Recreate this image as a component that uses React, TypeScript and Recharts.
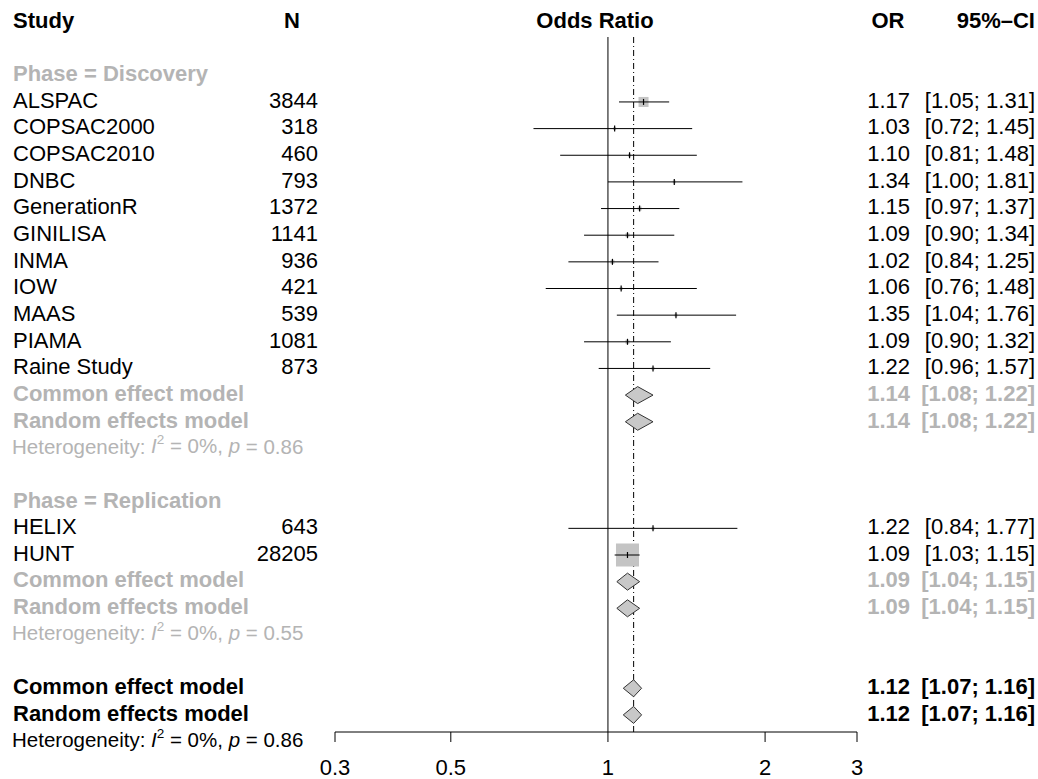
import React from 'react';
import { ComposedChart, Scatter, XAxis, YAxis, ReferenceLine } from 'recharts';

const W = 1038, H = 779;
const ROW0 = 22, ROWH = 26.65;
const yPix = (k: number) => ROW0 + ROWH * k;
const PLOT_TOP = 37, PLOT_BOTTOM = 732, PLOT_LEFT = 335, PLOT_RIGHT = 857;
const X_MIN = 0.3, X_MAX = 3;
const PX_PER_DEC = (PLOT_RIGHT - PLOT_LEFT) / Math.log10(X_MAX / X_MIN);

const studies = ['ALSPAC', 'COPSAC2000', 'COPSAC2010', 'DNBC', 'GenerationR', 'GINILISA', 'INMA', 'IOW', 'MAAS', 'PIAMA', 'Raine Study', 'HELIX', 'HUNT'];
const studyN = [3844, 318, 460, 793, 1372, 1141, 936, 421, 539, 1081, 873, 643, 28205];
const studyOR = [1.17, 1.03, 1.10, 1.34, 1.15, 1.09, 1.02, 1.06, 1.35, 1.09, 1.22, 1.22, 1.09];
const studyLo = [1.05, 0.72, 0.81, 1.00, 0.97, 0.90, 0.84, 0.76, 1.04, 0.90, 0.96, 0.84, 1.03];
const studyHi = [1.31, 1.45, 1.48, 1.81, 1.37, 1.34, 1.25, 1.48, 1.76, 1.32, 1.57, 1.77, 1.15];
const studyBox = [10, 3, 3, 3, 4, 4, 4, 3, 3, 4, 3, 3, 23];
const studyRow = [3, 4, 5, 6, 7, 8, 9, 10, 11, 12, 13, 19, 20];

const summaryLabels = ['Common effect model', 'Random effects model', 'Common effect model', 'Random effects model', 'Common effect model', 'Random effects model'];
const summaryOR = [1.14, 1.14, 1.09, 1.09, 1.12, 1.12];
const summaryLo = [1.08, 1.08, 1.04, 1.04, 1.07, 1.07];
const summaryHi = [1.22, 1.22, 1.15, 1.15, 1.16, 1.16];
const summaryRow = [14, 15, 21, 22, 25, 26];
const summaryOverall = [false, false, false, false, true, true];

const groupLabels = ['Phase = Discovery', 'Phase = Replication'];
const groupRow = [2, 18];
const hetP = ['0.86', '0.55', '0.86'];
const hetRow = [16, 23, 27];
const xTicks = [0.3, 0.5, 1, 2, 3];
const pooledOR = 1.12;

const studyData = studies.map((s, i) => ({ x: studyOR[i], y: studyRow[i], lo: studyLo[i], hi: studyHi[i], box: studyBox[i] }));
const summaryData = summaryOR.map((v, i) => ({ x: v, y: summaryRow[i], lo: summaryLo[i], hi: summaryHi[i] }));

const dx = (v: number, ref: number) => Math.log10(v / ref) * PX_PER_DEC;

const StudyShape = (p: any) => {
  const { cx, cy, payload } = p;
  const x1 = cx + dx(payload.lo, payload.x);
  const x2 = cx + dx(payload.hi, payload.x);
  const b = payload.box;
  return (
    <g>
      <rect x={cx - b / 2} y={cy - b / 2} width={b} height={b} fill="#c4c4c4" />
      <line x1={x1} x2={x2} y1={cy} y2={cy} stroke="#000" strokeWidth={1} />
      <line x1={cx} x2={cx} y1={cy - 3} y2={cy + 3} stroke="#000" strokeWidth={1.2} />
    </g>
  );
};

const DiamondShape = (p: any) => {
  const { cx, cy, payload } = p;
  const x1 = cx + dx(payload.lo, payload.x);
  const x2 = cx + dx(payload.hi, payload.x);
  const h = 8.5;
  return <polygon points={`${x1},${cy} ${cx},${cy - h} ${x2},${cy} ${cx},${cy + h}`} fill="#c8c8c8" stroke="#333" strokeWidth={1} />;
};

const FONT = 'Liberation Sans, Arial, sans-serif';
const GRAY = '#b4b4b4';
const FS = 22;
const OR_X = 910;
const CI_X = 1035;

const Het = ({ y, p, color }: { y: number; p: string; color: string }) => (
  <text x={12} y={y} fontSize={20.5} fill={color} dominantBaseline="middle">
    Heterogeneity: <tspan fontStyle="italic">I</tspan><tspan dy={-8} fontSize={13.5}>2</tspan><tspan dy={8}> = 0%, </tspan><tspan fontStyle="italic">p</tspan> = {p}
  </text>
);

const fmt = (v: number) => v.toFixed(2);

export default function App() {
  return (
    <div style={{ position: 'absolute', left: 0, top: 0, width: W, height: H, background: '#fff', fontFamily: FONT }}>
      <ComposedChart width={W} height={H} margin={{ top: PLOT_TOP, bottom: 0, left: PLOT_LEFT, right: W - PLOT_RIGHT }}>
        <XAxis type="number" dataKey="x" scale="log" domain={[X_MIN, X_MAX]} ticks={xTicks} allowDataOverflow
          height={H - PLOT_BOTTOM} axisLine={{ stroke: '#000' }} tickLine={{ stroke: '#000' }} tickSize={10} tickMargin={17}
          tick={{ fill: '#000', fontSize: FS, fontFamily: FONT }} tickFormatter={(v: number) => String(v)} />
        <YAxis type="number" dataKey="y" domain={[(PLOT_TOP - ROW0) / ROWH, (PLOT_BOTTOM - ROW0) / ROWH]} reversed hide allowDataOverflow width={0} />
        <ReferenceLine x={1} stroke="#000" strokeWidth={1} />
        <ReferenceLine x={pooledOR} stroke="#000" strokeWidth={1} strokeDasharray="6 3 1 3" />
        <Scatter data={studyData} shape={StudyShape} isAnimationActive={false} />
        <Scatter data={summaryData} shape={DiamondShape} isAnimationActive={false} />
      </ComposedChart>
      <svg width={W} height={H} style={{ position: 'absolute', left: 0, top: 0, pointerEvents: 'none' }} fontFamily={FONT}>
        <g fontSize={FS} fontWeight="bold" dominantBaseline="middle">
          <text x={13} y={yPix(0)}>Study</text>
          <text x={292} y={yPix(0)} textAnchor="middle">N</text>
          <text x={595} y={yPix(0)} textAnchor="middle">Odds Ratio</text>
          <text x={888} y={yPix(0)} textAnchor="middle">OR</text>
          <text x={CI_X} y={yPix(0)} textAnchor="end">95%–CI</text>
        </g>
        {groupLabels.map((g, i) => (
          <text key={g} x={13} y={yPix(groupRow[i])} fontSize={FS} fontWeight="bold" fill={GRAY} dominantBaseline="middle">{g}</text>
        ))}
        {studies.map((s, i) => (
          <g key={s} fontSize={FS} dominantBaseline="middle">
            <text x={13} y={yPix(studyRow[i])}>{s}</text>
            <text x={318} y={yPix(studyRow[i])} textAnchor="end">{studyN[i]}</text>
            <text x={OR_X} y={yPix(studyRow[i])} textAnchor="end">{fmt(studyOR[i])}</text>
            <text x={CI_X} y={yPix(studyRow[i])} textAnchor="end">[{fmt(studyLo[i])}; {fmt(studyHi[i])}]</text>
          </g>
        ))}
        {summaryLabels.map((s, i) => {
          const c = summaryOverall[i] ? '#000' : GRAY;
          return (
            <g key={i} fontSize={FS} fontWeight="bold" fill={c} dominantBaseline="middle">
              <text x={13} y={yPix(summaryRow[i])}>{s}</text>
              <text x={OR_X} y={yPix(summaryRow[i])} textAnchor="end">{fmt(summaryOR[i])}</text>
              <text x={CI_X} y={yPix(summaryRow[i])} textAnchor="end">[{fmt(summaryLo[i])}; {fmt(summaryHi[i])}]</text>
            </g>
          );
        })}
        {hetP.map((p, i) => (
          <Het key={i} y={yPix(hetRow[i])} p={p} color={i === 2 ? '#000' : GRAY} />
        ))}
      </svg>
    </div>
  );
}
